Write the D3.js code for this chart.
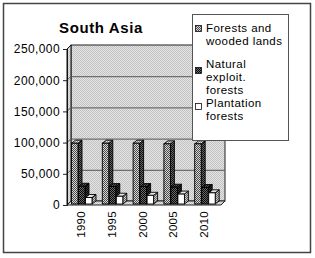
<!DOCTYPE html>
<html>
<head>
<meta charset="utf-8">
<script src="https://cdn.jsdelivr.net/npm/d3@7"></script>
<style>
  body { margin: 0; background: #fff; }
  svg text { font-family: "Liberation Sans", Arial, sans-serif; fill: #000; }
</style>
</head>
<body>
<svg id="chart" width="315" height="258"></svg>
<script>
// data
const years = ["1990", "1995", "2000", "2005", "2010"];
const seriesNames = ["Forests and wooded lands", "Natural exploit. forests", "Plantation forests"];
const forests = [99000, 99000, 99000, 98000, 98000];
const natural = [30000, 29500, 29500, 28500, 28000];
const plantation = [12000, 14000, 15500, 17500, 19500];
const yTicks = [0, 50000, 100000, 150000, 200000, 250000];

const values = [forests, natural, plantation];

const svg = d3.select("#chart");
const depthX = 4, depthY = 4;      // wall/floor depth
const barDx = 4, barDy = 3;        // bar depth

// patterns (grayscale print look)
const defs = svg.append("defs");
function checker(id, a, b) {
  const p = defs.append("pattern").attr("id", id)
    .attr("width", 2).attr("height", 2).attr("patternUnits", "userSpaceOnUse");
  p.append("rect").attr("width", 2).attr("height", 2).attr("fill", a);
  p.append("rect").attr("width", 1).attr("height", 1).attr("fill", b);
  p.append("rect").attr("x", 1).attr("y", 1).attr("width", 1).attr("height", 1).attr("fill", b);
}
checker("wall", "#e4e4e4", "#c2c2c2");
checker("f-front", "#d8d8d8", "#4a4a4a");
checker("f-side", "#666", "#111");
checker("f-top", "#eee", "#888");
checker("n-front", "#6a6a6a", "#080808");
checker("n-side", "#333", "#000");
checker("n-top", "#555", "#111");
checker("p-side", "#c8c8c8", "#666");

const fills = [
  { front: "url(#f-front)", side: "url(#f-side)", top: "url(#f-top)" },
  { front: "url(#n-front)", side: "url(#n-side)", top: "url(#n-top)" },
  { front: "#fff", side: "url(#p-side)", top: "#e6e6e6" }
];

// outer frame
svg.append("rect")
  .attr("x", 3.5).attr("y", 3.5).attr("width", 307).attr("height", 249)
  .attr("fill", "#fff").attr("stroke", "#444").attr("stroke-width", 1.5);

// scales
const y = d3.scaleLinear().domain([0, 250000]).range([205, 49]);
const x = d3.scaleBand().domain(years).range([67, 221]).padding(0);

const plotLeft = 67, plotRight = 221, plotBottom = y(0), plotTop = y(250000);

// back wall
svg.append("rect")
  .attr("x", plotLeft + depthX).attr("y", plotTop - depthY)
  .attr("width", plotRight - plotLeft).attr("height", plotBottom - plotTop)
  .attr("fill", "url(#wall)").attr("stroke", "#222").attr("stroke-width", 1);

// left wall
svg.append("path")
  .attr("d", `M${plotLeft},${plotTop}L${plotLeft + depthX},${plotTop - depthY}L${plotLeft + depthX},${plotBottom - depthY}L${plotLeft},${plotBottom}Z`)
  .attr("fill", "url(#wall)").attr("stroke", "#111").attr("stroke-width", 1);

// gridlines on walls
const grid = svg.append("g").attr("stroke", "#555").attr("stroke-width", 1);
yTicks.slice(1, -1).forEach(v => {
  grid.append("line")
    .attr("x1", plotLeft + depthX).attr("x2", plotRight + depthX)
    .attr("y1", y(v) - depthY + 0.5).attr("y2", y(v) - depthY + 0.5);
  grid.append("line")
    .attr("x1", plotLeft).attr("x2", plotLeft + depthX)
    .attr("y1", y(v)).attr("y2", y(v) - depthY);
});

// floor
svg.append("path")
  .attr("d", `M${plotLeft},${plotBottom}L${plotLeft + depthX},${plotBottom - depthY}L${plotRight + depthX},${plotBottom - depthY}L${plotRight},${plotBottom}Z`)
  .attr("fill", "url(#wall)").attr("stroke", "#222").attr("stroke-width", 1);

// y axis
const yAxis = svg.append("g")
  .attr("transform", `translate(${plotLeft},0)`)
  .call(d3.axisLeft(y).tickValues(yTicks).tickSize(4).tickPadding(3).tickFormat(d3.format(",")));
yAxis.select(".domain").attr("stroke", "#111");
yAxis.selectAll(".tick line").attr("stroke", "#222");
yAxis.selectAll(".tick text")
  .style("font-size", "12px").style("letter-spacing", "0.4px")
  .attr("fill", "#000");

// bars
const barW = 6.5, step = 7, offset = 4.5;
const barsG = svg.append("g");
years.forEach((yr, ci) => {
  values.forEach((vals, si) => {
    const x0 = x(yr) + offset + si * step;
    const base = plotBottom - 1;
    const yt = y(vals[ci]);
    const g = barsG.append("g").attr("stroke", "#000").attr("stroke-width", 0.9);
    g.append("path")
      .attr("d", `M${x0 + barW},${yt}L${x0 + barW + barDx},${yt - barDy}L${x0 + barW + barDx},${base - barDy}L${x0 + barW},${base}Z`)
      .attr("fill", fills[si].side);
    g.append("path")
      .attr("d", `M${x0},${yt}L${x0 + barDx},${yt - barDy}L${x0 + barW + barDx},${yt - barDy}L${x0 + barW},${yt}Z`)
      .attr("fill", fills[si].top);
    g.append("rect")
      .attr("x", x0).attr("y", yt).attr("width", barW).attr("height", base - yt)
      .attr("fill", fills[si].front);
  });
});

// x axis labels (rotated)
svg.append("g").selectAll("text")
  .data(years).join("text")
  .attr("transform", d => `translate(${x(d) + 18},211) rotate(-90)`)
  .attr("text-anchor", "end")
  .style("font-size", "11.5px").style("letter-spacing", "0.3px")
  .text(d => d);

// title
svg.append("text")
  .attr("x", 101).attr("y", 33).attr("text-anchor", "middle")
  .style("font-size", "15px").style("font-weight", "bold").style("letter-spacing", "0.6px")
  .text("South Asia");

// legend
const legend = svg.append("g");
legend.append("rect")
  .attr("x", 192.5).attr("y", 14.5).attr("width", 96).attr("height", 126)
  .attr("fill", "#fff").attr("stroke", "#555").attr("stroke-width", 1);

const legendLines = [
  ["Forests and", "wooded lands"],
  ["Natural", "exploit.", "forests"],
  ["Plantation", "forests"]
];
const legendY = [32, 68, 107];
const swatchY = [25, 67, 103];
legendLines.forEach((lines, i) => {
  legend.append("rect")
    .attr("x", 195.5).attr("y", swatchY[i] + 0.5).attr("width", 6).attr("height", 6)
    .attr("fill", fills[i].front).attr("stroke", "#111").attr("stroke-width", 0.8);
  const t = legend.append("text")
    .attr("x", 206).attr("y", legendY[i])
    .style("font-size", "11.5px").style("letter-spacing", "0.45px");
  lines.forEach((l, j) => {
    t.append("tspan").attr("x", 206).attr("dy", j === 0 ? 0 : 13).text(l);
  });
});
</script>
</body>
</html>
